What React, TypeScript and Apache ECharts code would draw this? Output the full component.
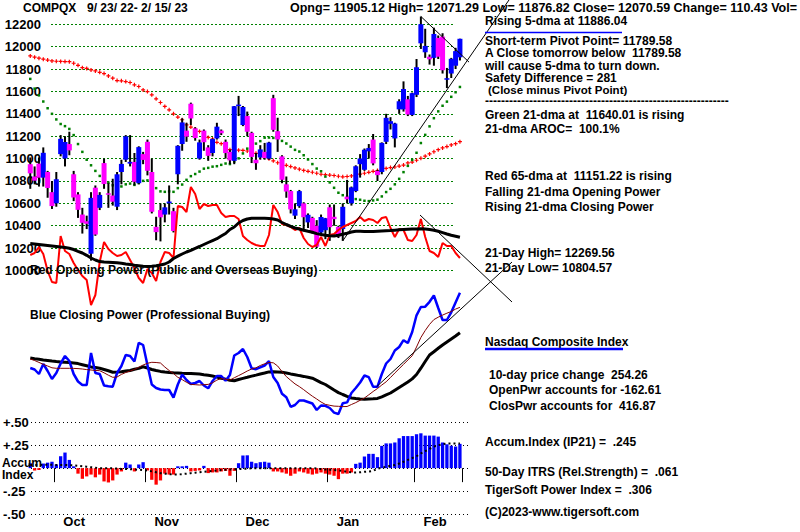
import React, { useEffect, useRef } from 'react';
import * as echarts from 'echarts';

const dates = [
  '9/23','9/26','9/27','9/28','9/29','9/30',
  '10/3','10/4','10/5','10/6','10/7','10/10','10/11','10/12','10/13','10/14','10/17','10/18','10/19','10/20','10/21','10/24','10/25','10/26','10/27','10/28','10/31',
  '11/1','11/2','11/3','11/4','11/7','11/8','11/9','11/10','11/11','11/14','11/15','11/16','11/17','11/18','11/21','11/22','11/23','11/25','11/28','11/29','11/30',
  '12/1','12/2','12/5','12/6','12/7','12/8','12/9','12/12','12/13','12/14','12/15','12/16','12/19','12/20','12/21','12/22','12/23','12/27','12/28','12/29','12/30',
  '1/3','1/4','1/5','1/6','1/9','1/10','1/11','1/12','1/13','1/17','1/18','1/19','1/20','1/23','1/24','1/25','1/26','1/27','1/30','1/31',
  '2/1','2/2','2/3','2/6','2/7','2/8','2/9','2/10','2/13','2/14','2/15'
];

const opens = [
  10950,10840,10955,10830,10880,10700,
  10600,11040,11000,11130,10860,10680,10500,10440,10150,10740,10560,10960,10690,10670,10570,10880,10990,10955,10970,10780,11040,
  11150,10880,10390,10540,10500,10600,10530,10860,11130,11250,11490,11270,11000,11250,11100,11050,11180,11250,11150,11060,10980,
  11470,11300,11380,11230,10990,11010,11060,11000,11540,11245,11020,10770,10710,10490,10575,10600,10430,10470,10400,10340,10360,
  10565,10480,10390,10370,10660,10600,10710,10950,10900,11065,11170,10890,10880,11150,11310,11180,11440,11440,11530,11390,
  11570,12030,11950,11910,11900,12078,12090,11710,11760,11830,11905.12
];
const highs = [
  11010,10930,11010,11100,10890,10800,
  10880,11210,11200,11240,10890,10700,10560,10490,10700,10760,10700,11000,10780,10820,10880,10990,11210,11210,11050,11110,11060,
  11170,11000,10480,10600,10600,10760,10560,11120,11360,11320,11500,11280,11170,11260,11120,11180,11320,11260,11170,11080,11470,
  11560,11470,11420,11240,11050,11120,11140,11150,11570,11365,11030,10840,10720,10600,10720,10610,10510,10480,10450,10500,10470,
  10590,10590,10400,10600,10810,10750,10940,11040,11090,11130,11220,10900,11145,11400,11370,11320,11530,11690,11560,11590,
  11890,12269.56,12160,11930,12170,12100,12120,11810,11900,11990,12071.29
];
const lows = [
  10730,10770,10750,10750,10650,10550,
  10570,11020,10930,11030,10620,10470,10330,10370,10088,10310,10540,10730,10560,10580,10540,10770,10970,10930,10760,10770,10950,
  10850,10510,10270,10260,10430,10500,10340,10770,11070,11150,11300,11160,10990,11070,10980,11020,11170,11210,11000,10950,10950,
  11380,11290,11200,10960,10900,10990,10990,10990,11240,11060,10780,10650,10510,10460,10560,10350,10380,10330,10200,10320,10280,
  10265,10400,10290,10265,10600,10580,10700,10830,10890,11000,10940,10800,10860,11130,11260,11100,11400,11420,11380,11380,
  11550,11980,11900,11840,11830,11890,11760,11630,11720,11800,11876.82
];
const closes = [
  10867.93,10802.92,10829.50,11051.64,10737.51,10575.62,
  10815.43,11176.41,11148.64,11073.31,10652.41,10542.10,10426.19,10417.10,10649.15,10321.39,10675.80,10772.40,10680.51,10614.84,10859.72,10952.61,11199.12,10970.99,10792.68,11102.45,10988.15,
  10890.85,10524.80,10342.94,10475.25,10564.52,10616.20,10353.17,11114.15,11323.33,11196.22,11358.41,11183.66,11144.96,11146.06,11024.51,11174.41,11285.32,11226.36,11049.50,10983.78,11468.00,
  11482.45,11461.50,11239.94,11014.89,10958.55,11082.00,11004.62,11143.74,11256.81,11170.89,10810.53,10705.41,10546.03,10547.11,10709.37,10476.12,10497.86,10353.23,10213.29,10478.09,10466.48,
  10386.98,10458.76,10305.24,10569.29,10635.65,10742.63,10931.67,11001.10,11079.16,11095.11,10957.01,10852.27,11140.43,11364.41,11334.27,11313.36,11512.41,11621.71,11393.81,11584.55,
  11816.32,12200.82,12006.95,11887.45,12113.79,11910.52,11789.58,11718.12,11891.79,11960.15,12070.59
];

const ma21 = [
  11712,11625,11565,11510,11450,11400,11350,11309,11290,11265,
  11210,11130,11060,10990,10940,10890,10845,10810,10785,10762,
  10747,10751,10770,10777,10765,10782,10801,10805,10774,10736,
  10707,10703,10707,10703,10736,10768,10810,10843,10862,10884,
  10910,10917,10928,10932,10944,10956,10951,10974,11002,11046,
  11089,11115,11134,11156,11187,11188,11185,11184,11158,11135,
  11107,11078,11063,11030,10992,10951,10911,10887,10839,10787,
  10739,10695,10673,10658,10642,10638,10632,10623,10620,10626,
  10633,10662,10701,10730,10770,10819,10879,10935,10988,11052,
  11139,11212,11288,11361,11422,11472,11509,11552,11593,11640.01
];
const ma65 = [
  11917,11906,11897,11888,11880,11873,11870,11868,11867,11866,
  11852,11833,11812,11806,11792,11783,11771,11760,11739,11719,
  11697,11695,11688,11680,11659,11644,11614,11599,11570,11534,
  11501,11466,11436,11400,11371,11347,11302,11282,11264,11243,
  11228,11189,11175,11145,11133,11109,11080,11065,11075,11073,
  11068,11060,11047,11033,11020,10998,10980,10963,10950,10940,
  10929,10917,10905,10894,10886,10878,10869,10860,10856,10853,
  10849,10842,10837,10840,10845,10853,10861,10869,10877,10886,
  10893,10898,10912,10920,10925,10933,10942,10961,10969,10985,
  11003,11022,11042,11061,11080,11095,11107,11122,11133,11151.22
];

const openPower = [
  15,17,23,16,-1,-12,-13,34,19,16,
  7,0,-6,-10,-35,-25,8,28,21,17,
  14,15,18,10,2,-8,-13,1,-3,-11,
  8,18,17,12,64,63,58,83,76,61,
  66,64,65,65,57,53,54,54,51,34,
  30,27,25,24,24,35,65,58,46,45,
  43,40,42,32,26,23,25,33,24,35,
  36,40,43,45,47,49,53,49,51,50,
  47,52,53,42,33,41,40,30,29,35,
  51,33,19,17,13,27,24,24,17,12
];
const openPowerMA = [
  26.5,26,25.5,25,24.5,24,23.5,23,22.5,21.8,
  20.5,18.7,17,14.7,12,10,8.4,8,7.8,7.5,
  7.2,6.7,6,5.4,4.8,4.3,3.7,3.4,3.8,4.3,
  5,6,8,11.5,13.8,16,18,19.7,21.7,23.5,
  25.5,27.5,29.4,31.3,34,36.5,40.5,43,47,49.5,
  51,51.7,51.8,51.8,51.7,51.5,51,50,47.5,45.5,
  43.7,42,41,39.8,38.7,37.7,36.4,35.5,34.8,34.3,
  34,34.8,35.8,36.8,38,38.8,38.8,38.6,38.4,38.4,
  38.7,39,39.2,39.4,39.8,40.2,40.6,40.8,41,41.1,
  41.3,41,40.4,39.8,38.8,37.4,36,34.7,33.7,32.7
];

const closePower = [
  47,45.5,41,51,44,36,42,51.5,59,54,
  41,33.5,30,30,62,42,41,29.5,28.7,28.3,
  42,49,60,59,53.5,72.2,70,50,30.5,27,
  25.5,25,25,17.5,30.5,40.5,35,31,32,34,
  29.5,26.7,34,39,39,34.3,40,59.5,62,66,
  58,46.7,45.8,47.7,49.5,53.8,38,32,21.2,17.7,
  8.2,10,14.5,14.5,13,11.5,5,9.5,9.2,7,
  2.4,1,11.7,12.6,22,27,32.5,39.5,37.8,28.3,
  28.3,41,51.5,56,64.5,68,74.8,72,83,99.7,
  108,108.3,113.2,119.5,107,95,95,102.7,112.5,122.3
];
const closePowerShortMA = [
  56,54.5,52.6,50.7,49,47.2,46.7,46.7,46.7,46.7,
  46.6,46.4,46,45.4,45,44.6,44.3,42.2,39.8,37.7,
  38,40.6,42.5,44,45.6,47.8,50,51.7,52.7,52.5,
  52,48,44.5,41.5,37.7,35.4,32.7,30.6,30.3,30,
  30.3,30.6,32.2,34.9,36.5,35.7,35,37.2,39.4,41.6,
  44,46,47.2,49.5,51.2,52.5,52.2,49,43.4,38.4,
  34.7,31.1,28.4,25.3,22,18.8,16,13,10.6,9.7,
  8.9,8.7,8.4,8.5,10.5,12.4,14.7,17,20.2,23.5,
  26.5,30,33.2,37.5,42,46.3,50.6,55,59.2,68,
  77.5,84.5,90.6,95.4,97.8,99.9,101.8,103.5,105.9,107.7
];
const closePowerLongMA = [
  57,56.3,55.7,55,54.5,53.9,53.4,53,52.7,52.4,
  52,51.4,50.3,49.2,48.1,47.4,46.7,45.5,44.2,42.8,
  42.9,43.2,43.9,44.5,45.7,46.6,48.2,47,45.5,44.5,
  43.6,42.9,42.5,42.2,42,41.7,41.6,41.4,41.2,41,
  40.3,39.7,39,37.9,36.8,35.9,34.8,34.3,35.5,36.6,
  37.7,38.9,39.9,41,42,43.1,43.2,43,42.7,42,
  41.1,40.3,39.4,38.6,37.7,36.8,34.7,32.4,30.5,27.8,
  25,22.4,20.5,18.7,17,16.4,16,15.7,16,16.2,
  16.6,18.2,20.1,22,24.8,27.5,30.2,33,36.1,40.5,
  46.8,53.5,60,63.3,66.7,70,73,76,79,82.3
];

const accum = [
  0.054,-0.026,-0.02,0.05,0.06,0.07,0.04,0.13,0.17,0.09,
  0.02,-0.06,-0.116,-0.09,-0.07,-0.1,-0.07,-0.145,-0.156,-0.134,
  -0.07,-0.036,0.06,0.04,-0.036,0.04,0.065,-0.025,-0.127,-0.18,
  -0.134,-0.06,-0.07,-0.07,0.02,0.02,0.025,-0.036,-0.03,-0.025,
  0.025,-0.054,-0.047,-0.047,-0.036,-0.03,-0.083,-0.03,0.054,0.138,
  0.14,0.07,0.054,0.065,0.07,0.06,-0.036,-0.036,-0.047,-0.06,
  -0.083,-0.06,-0.036,-0.047,-0.06,-0.07,-0.06,-0.047,-0.06,-0.07,
  -0.083,-0.12,-0.06,-0.06,-0.047,0.047,0.06,0.127,0.156,0.156,
  0.12,0.243,0.27,0.27,0.28,0.326,0.35,0.35,0.35,0.37,
  0.38,0.355,0.355,0.355,0.344,0.28,0.26,0.245,0.236,0.265
];
const accumMA = [
  0.035,0.035,0.035,0.036,0.036,0.036,0.034,0.034,0.034,0.033,
  0.03,0.025,0.02,0.015,0.01,0.005,0,0,0,-0.002,
  -0.005,-0.008,-0.01,-0.012,-0.015,-0.018,-0.02,-0.025,-0.035,-0.045,
  -0.055,-0.06,-0.065,-0.07,-0.07,-0.065,-0.06,-0.055,-0.05,-0.045,
  -0.04,-0.035,-0.03,-0.025,-0.02,-0.018,-0.015,-0.012,-0.01,-0.008,
  -0.005,0,0,0,0,0,0,0,0,0,
  0,0,0,0,0,0,-0.005,-0.01,-0.015,-0.018,
  -0.02,-0.025,-0.03,-0.04,-0.045,-0.047,-0.045,-0.04,-0.036,-0.03,
  -0.005,0.005,0.015,0.025,0.035,0.05,0.07,0.09,0.11,0.13,
  0.16,0.185,0.21,0.235,0.25,0.26,0.27,0.27,0.27,0.27
];

// trend lines: [dayIndex, value] pairs, converted through the axes
const priceTrendUp = [[72, 10265], [110.3, 12417]];
const priceTrendDown = [[90, 12270], [101.1, 11862]];
const openPowerTrend = [[89.8, 55], [111, -32]];
const closePowerTrend = [[79.8, 28.3], [111, 153]];

const monthNames: Record<number, string> = { 1: 'Jan', 2: 'Feb', 10: 'Oct', 11: 'Nov', 12: 'Dec' };

const FONT = '"Liberation Sans", Arial, sans-serif';

export default function App() {
  const ref = useRef<HTMLDivElement>(null);
  useEffect(() => {
    if (!ref.current) return;
    const chart = echarts.init(ref.current, null, { renderer: 'svg' });
    const monthOf = (d: string) => parseInt(d.split('/')[0], 10);
    const isMonthStart = (i: number) => i > 0 && monthOf(dates[i]) !== monthOf(dates[i - 1]);

    const L = 28.1, W = 434;
    const priceTop = 24.3, priceH = 246.2;
    const accTop = 422.3, accH = 91.7;

    const hiddenCat = (gridIndex: number) => ({ type: 'category', gridIndex, data: dates, boundaryGap: true, show: false });
    const hiddenVal = (gridIndex: number) => ({ type: 'value', gridIndex, min: -0.5, max: 99.5, show: false, position: 'top' });

    const txt = (text: string, x: number, y: number, size = 12, extra: any = {}) => ({
      type: 'text', x, y, z: 50,
      style: { text, fill: '#000', font: `bold ${size}px ${FONT}`, verticalAlign: 'middle', align: 'left', ...extra },
    });

    const option: any = {
      animation: false,
      backgroundColor: '#ffffff',
      grid: [
        { left: 51, width: 402, top: priceTop, height: priceH },
        { left: L, width: W, top: priceTop, height: priceH },
        { left: L, width: W, top: 170, height: 140 },
        { left: L, width: W, top: 285, height: 135 },
        { left: L, width: W, top: accTop, height: accH },
        { left: 30, width: 441, top: accTop, height: accH },
      ],
      xAxis: [
        { type: 'value', gridIndex: 0, min: 0, max: 1, show: false },
        hiddenCat(1),
        hiddenVal(1),
        hiddenCat(2),
        hiddenVal(2),
        hiddenCat(3),
        hiddenVal(3),
        {
          type: 'category', gridIndex: 4, data: dates, boundaryGap: true,
          axisLine: { show: false },
          axisTick: { show: true, length: 14, interval: (i: number) => isMonthStart(i), lineStyle: { color: '#000', width: 1 } },
          axisLabel: {
            interval: (i: number) => isMonthStart(i),
            formatter: (v: string) => monthNames[monthOf(v)] || '',
            align: 'left', verticalAlign: 'top', margin: 1, padding: [0, 0, 0, 7],
            color: '#000', fontWeight: 'bold', fontSize: 13, fontFamily: FONT,
          },
          splitLine: { show: false },
        },
        { type: 'value', gridIndex: 5, min: 0, max: 1, show: false },
      ],
      yAxis: [
        {
          type: 'value', gridIndex: 0, min: 10000, max: 12200, interval: 200,
          axisLine: { show: false }, axisTick: { show: false },
          axisLabel: { margin: 10, color: '#000', fontWeight: 'bold', fontSize: 13, fontFamily: FONT, formatter: (v: number) => String(v) },
          splitLine: { show: true, lineStyle: { color: '#008000', type: [2, 2], width: 1 } },
        },
        { type: 'value', gridIndex: 1, min: 10000, max: 12200, show: false },
        { type: 'value', gridIndex: 2, min: -40, max: 100, show: false },
        { type: 'value', gridIndex: 3, min: -5, max: 130, show: false },
        { type: 'value', gridIndex: 4, min: -0.5, max: 0.5, show: false },
        {
          type: 'value', gridIndex: 5, min: -0.5, max: 0.5, interval: 0.25,
          axisLine: { show: false }, axisTick: { show: false },
          axisLabel: {
            margin: 28, align: 'left', color: '#000', fontWeight: 'bold', fontSize: 13, fontFamily: FONT,
            formatter: (v: number) => (Math.abs(v) < 1e-9 ? '' : (v > 0 ? '+' : '-') + Math.abs(v).toFixed(2).replace('0.', '.')),
          },
          splitLine: { show: true, lineStyle: { color: '#000', type: [1, 3], width: 1 } },
        },
      ],
      series: [
        {
          type: 'custom', name: 'price', xAxisIndex: 1, yAxisIndex: 1, z: 4,
          data: dates.map((d, i) => [i, opens[i], closes[i], lows[i], highs[i]]),
          encode: { x: 0, y: [1, 2, 3, 4] },
          renderItem: (params: any, api: any) => {
            const i = api.value(0);
            const o = api.value(1), c = api.value(2), lo = api.value(3), hi = api.value(4);
            const pO = api.coord([i, o]);
            const pC = api.coord([i, c]);
            const pL = api.coord([i, lo]);
            const pH = api.coord([i, hi]);
            const w = 5;
            const top = Math.min(pO[1], pC[1]);
            const h = Math.max(1.5, Math.abs(pO[1] - pC[1]));
            return {
              type: 'group',
              children: [
                { type: 'line', shape: { x1: pH[0], y1: pH[1], x2: pL[0], y2: pL[1] }, style: { stroke: '#000', lineWidth: 2 } },
                { type: 'rect', shape: { x: pO[0] - w / 2, y: top, width: w, height: h }, style: { fill: c >= o ? '#0000ff' : '#ff00ff' } },
              ],
            };
          },
        },
        {
          type: 'line', name: '65-dma', xAxisIndex: 1, yAxisIndex: 1, data: ma65, z: 3,
          symbol: 'path://M1.4,0H2.6V1.4H4V2.6H2.6V4H1.4V2.6H0V1.4H1.4Z', symbolSize: 4,
          showSymbol: true, showAllSymbol: true, lineStyle: { opacity: 0 }, itemStyle: { color: '#ff0000' },
        },
        {
          type: 'line', name: '21-dma', xAxisIndex: 1, yAxisIndex: 1, data: ma21, z: 3,
          symbol: 'rect', symbolSize: 2.5,
          showSymbol: true, showAllSymbol: true, lineStyle: { opacity: 0 }, itemStyle: { color: '#008000' },
        },
        {
          type: 'line', name: 'openPower', xAxisIndex: 3, yAxisIndex: 2, data: openPower, z: 5,
          symbol: 'none', lineStyle: { color: '#ff0000', width: 2 },
        },
        {
          type: 'line', name: 'openPowerMA', xAxisIndex: 3, yAxisIndex: 2, data: openPowerMA, z: 5,
          symbol: 'none', lineStyle: { color: '#000', width: 3 },
        },
        {
          type: 'line', name: 'closePowerLongMA', xAxisIndex: 5, yAxisIndex: 3, data: closePowerLongMA, z: 4,
          symbol: 'none', lineStyle: { color: '#000', width: 3 },
        },
        {
          type: 'line', name: 'closePowerShortMA', xAxisIndex: 5, yAxisIndex: 3, data: closePowerShortMA, z: 5,
          symbol: 'none', lineStyle: { color: '#800000', width: 1 },
        },
        {
          type: 'line', name: 'closePower', xAxisIndex: 5, yAxisIndex: 3, data: closePower, z: 4,
          symbol: 'none', lineStyle: { color: '#0000ff', width: 2.5 },
        },
        {
          type: 'bar', name: 'accum', xAxisIndex: 7, yAxisIndex: 4, data: accum, barWidth: 3.3, z: 3,
          itemStyle: { color: (p: any) => (p.value >= 0 ? '#0000ff' : '#ff0000') },
        },
        {
          type: 'line', name: 'accumMA', xAxisIndex: 7, yAxisIndex: 4, data: accumMA, z: 4,
          symbol: 'none', lineStyle: { color: '#000', width: 2, type: [2, 3] },
        },
      ],
    };
    chart.setOption(option);

    const trendLine = (pts: number[][], xAxisIndex: number, yAxisIndex: number) => {
      const a = chart.convertToPixel({ xAxisIndex, yAxisIndex } as any, pts[0]) as number[];
      const b = chart.convertToPixel({ xAxisIndex, yAxisIndex } as any, pts[1]) as number[];
      return { type: 'line', z: 40, shape: { x1: a[0], y1: a[1], x2: b[0], y2: b[1] }, style: { stroke: '#000', lineWidth: 1 } };
    };

    const graphic: any[] = [
      trendLine(priceTrendUp, 2, 1),
      trendLine(priceTrendDown, 2, 1),
      trendLine(openPowerTrend, 4, 2),
      trendLine(closePowerTrend, 6, 3),
      txt('COMPQX', 23, 8),
      txt('9/ 23/ 22- 2/ 15/ 23', 87, 8),
      txt('Opng= 11905.12 High= 12071.29 Low= 11876.82 Close= 12070.59 Change= 110.43 Vol=', 290, 8, 12.5),
      txt('Rising 5-dma at 11886.04', 485, 21),
      { type: 'line', z: 50, shape: { x1: 485, y1: 32.5, x2: 622, y2: 32.5 }, style: { stroke: '#0000ff', lineWidth: 1.5 } },
      txt('Short-term Pivot Point= 11789.58\nA Close tomorrow below  11789.58\nwill cause 5-dma to turn down.\nSafety Difference = 281', 485, 59.5, 12, { lineHeight: 12.2 }),
      txt('(Close minus Pivot Point)', 488, 89.5, 11.5),
      txt('-------------------------------------------------------------', 485, 101),
      txt('Green 21-dma at  11640.01 is rising', 485, 115),
      txt('21-dma AROC=  100.1%', 485, 129),
      txt('Red 65-dma at  11151.22 is rising', 485, 175.5),
      txt('Falling 21-dma Opening Power', 485, 192),
      txt('Rising 21-dma Closing Power', 485, 206.5),
      txt('21-Day High= 12269.56', 485, 253),
      txt('21-Day Low= 10804.57', 485, 268),
      txt('Nasdaq Composite Index', 485, 341.5),
      { type: 'line', z: 50, shape: { x1: 485, y1: 349, x2: 623, y2: 349 }, style: { stroke: '#0000ff', lineWidth: 2.5 } },
      txt('10-day price change  254.26', 489, 375),
      txt('OpenPwr accounts for -162.61', 489, 390),
      txt('ClosPwr accounts for  416.87', 489, 405.5),
      txt('Accum.Index (IP21) =  .245', 485, 441.5),
      txt('50-Day ITRS (Rel.Strength) =  .061', 485, 472),
      txt('TigerSoft Power Index =  .306', 485, 490),
      txt('(C)2023-www.tigersoft.com', 485, 511.5),
      txt('Red Opening Power (Public and Overseas Buying)', 30, 270),
      txt('Blue Closing Power (Professional Buying)', 30, 315),
      txt('Accum\nIndex', 2, 469, 12, { lineHeight: 11.5 }),
    ];
    chart.setOption({ graphic });
    return () => chart.dispose();
  }, []);
  return (
    <div style={{ position: 'absolute', left: 0, top: 0, width: 800, height: 532, background: '#fff' }}>
      <div ref={ref} style={{ width: 800, height: 532 }} />
    </div>
  );
}
